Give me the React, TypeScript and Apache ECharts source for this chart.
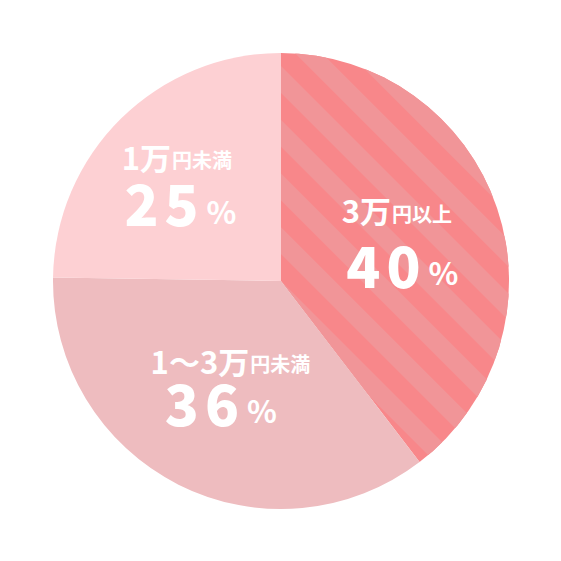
import { useEffect, useRef } from 'react'
import * as echarts from 'echarts'

// ===== データ =====
const categories = ['3万円以上', '1〜3万円未満', '1万円未満']
const values = [40, 36, 25]
// ラベルの頭(大きい部分)と続き(小さい部分)
const labelHeads = ['3万', '1〜3万', '1万']
const labelTails = ['円以上', '円未満', '円未満']
const colors = ['#f8878a', '#eebcbf', '#fdd0d3']

const FONT = '"Noto Sans CJK JP", "Noto Sans", sans-serif'

// ラベルの微調整 (行間, 2行目の左右余白, ずらし)
const labelTweaks = [
  { gap: 66, padL: 8, padR: 0, dx: 5, dy: -2 },
  { gap: 54, padL: 0, padR: 22, dx: 2, dy: 0 },
  { gap: 58, padL: 4, padR: 0, dx: -22, dy: -14 },
]

function makeRich(gap: number, padL: number, padR: number) {
  const base = { fontWeight: 'bold', fontFamily: FONT, color: '#fff', verticalAlign: 'bottom' }
  const big = { ...base, fontWeight: 900, fontSize: 56, lineHeight: gap }
  return {
    h: { ...base, fontSize: 31, lineHeight: 34 },
    t: { ...base, fontSize: 20, lineHeight: 34, padding: [0, 0, 2, 1] },
    f: { ...big, padding: [0, 3, 0, 3 + padL] },
    n: { ...big, padding: [0, 3] },
    p: { ...base, fontSize: 31, lineHeight: gap, padding: [0, padR, 4, 5] },
  }
}

export default function App() {
  const ref = useRef<HTMLDivElement>(null)

  useEffect(() => {
    document.body.style.margin = '0'
    if (!ref.current) return
    const chart = echarts.init(ref.current, undefined, { renderer: 'svg' })

    const data = values.map((v, i) => ({
      name: categories[i],
      value: v,
      label: { rich: makeRich(labelTweaks[i].gap, labelTweaks[i].padL, labelTweaks[i].padR) },
      itemStyle: {
        color: colors[i],
        decal:
          i === 0
            ? {
                symbol: 'rect',
                symbolSize: 1,
                color: '#f19598',
                dashArrayX: [1, 0],
                dashArrayY: [19, 19],
                rotation: Math.PI / 4,
              }
            : undefined,
      },
    }))

    chart.setOption({
      animation: false,
      aria: { enabled: false, decal: { show: true } },
      series: [
        {
          type: 'pie',
          center: [281, 281],
          radius: 228,
          startAngle: 90,
          clockwise: true,
          silent: true,
          data,
          labelLine: { show: false },
          label: {
            show: true,
            position: 'inside',
            color: '#fff',
            fontFamily: FONT,
            fontWeight: 'bold',
            formatter: (p: { dataIndex: number; value: number }) => {
              const digits = String(p.value)
                .split('')
                .map((d, k) => `{${k === 0 ? 'f' : 'n'}|${d}}`)
                .join('')
              return `{h|${labelHeads[p.dataIndex]}}{t|${labelTails[p.dataIndex]}}\n${digits}{p|%}`
            },
          },
          labelLayout: (params: { dataIndex: number }) => ({
            dx: labelTweaks[params.dataIndex].dx,
            dy: labelTweaks[params.dataIndex].dy,
          }),
        },
      ],
    })

    return () => chart.dispose()
  }, [])

  return <div ref={ref} style={{ width: 561, height: 561 }} />
}
